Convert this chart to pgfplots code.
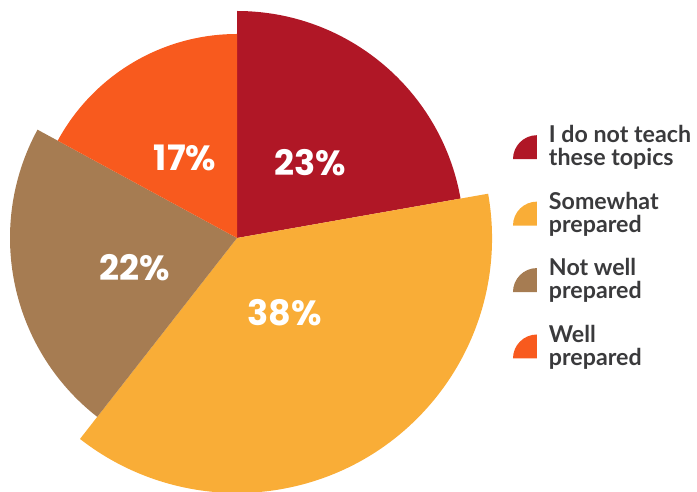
\documentclass[border=0pt]{standalone}
\usepackage{pgfplots}
\pgfplotsset{compat=1.18}
\usepackage{fontspec}
\setmainfont{Lato}
\newfontfamily\pctfont{Poppins}
\definecolor{cRed}{HTML}{B01726}
\definecolor{cOrange}{HTML}{F9AD37}
\definecolor{cBrown}{HTML}{A67C52}
\definecolor{cWell}{HTML}{F85A1E}
\definecolor{cText}{HTML}{3A3A3C}
\begin{document}
\begin{tikzpicture}
\begin{axis}[
  x=0.5pt, y=0.5pt,
  xmin=-237, xmax=460, ymin=-254, ymax=238,
  hide axis, clip=false,
  data cs=polar,
  legend image code/.code={
    \fill (0pt,-6pt) -- (12pt,-6pt) -- (12pt,6pt)
      arc[start angle=90, end angle=180, radius=12pt] -- cycle;},
  legend cell align=left,
  legend style={
    at={(rel axis cs:0.736,0.745)}, anchor=north west,
    draw=none, fill=none, inner sep=0pt, outer sep=0pt,
    row sep=11.5pt,
    /tikz/every odd column/.append style={column sep=6pt},
    nodes={inner sep=0pt, align=left, text=cText,
      font=\bfseries\fontsize{11.6}{11.6}\selectfont},
  },
]
% slices: polar (angle, radius) in px of the reference, radius 1 px = 0.5pt
\addplot[draw=none, fill=cRed] coordinates {(0,0) (90,227)}
  arc[start angle=90, end angle=10, radius=113.5pt] -- cycle;
\addlegendentry{I do not teach\\these topics}
\addplot[draw=none, fill=cOrange] coordinates {(0,0) (10,255)}
  arc[start angle=10, end angle=-128, radius=127.5pt] -- cycle;
\addlegendentry{Somewhat\\prepared}
\addplot[draw=none, fill=cBrown] coordinates {(0,0) (151.5,227)}
  arc[start angle=151.5, end angle=232, radius=113.5pt] -- cycle;
\addlegendentry{Not well\\prepared}
\addplot[draw=none, fill=cWell] coordinates {(0,0) (151.5,204)}
  arc[start angle=151.5, end angle=90, radius=102pt] -- cycle;
\addlegendentry{Well\\prepared}
% percentage labels
\addplot[forget plot, only marks, mark=none,
  nodes near coords, point meta=explicit symbolic,
  every node near coord/.append style={anchor=center, text=white,
    font=\pctfont\bfseries\fontsize{17.5}{17.5}\selectfont}]
  coordinates {(45.8,104.6) [23\%] (123,95.4) [17\%]
               (196.4,106.3) [22\%] (-57.4,89) [38\%]};
\coordinate (bbsw) at (rel axis cs:0,0);
\coordinate (bbne) at (rel axis cs:1,1);
\end{axis}
\pgfresetboundingbox
\useasboundingbox (bbsw) rectangle (bbne);
\end{tikzpicture}
\end{document}
